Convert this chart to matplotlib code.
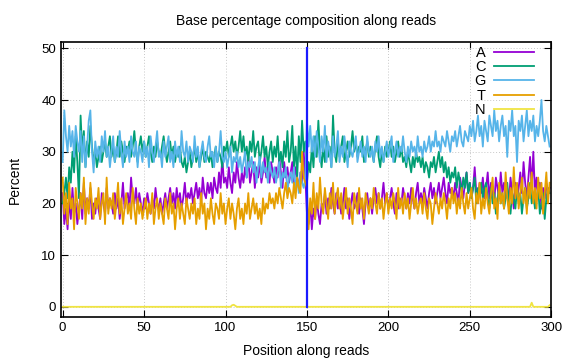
import numpy as np
import matplotlib.pyplot as plt

plt.rcParams['font.family'] = ['Liberation Sans', 'DejaVu Sans']

# Base percentages per read position (0..299)
pct_a = [
    22, 16, 19, 15, 21, 17, 23, 18, 20, 16,
    19, 22, 17, 24, 18, 21, 19, 23, 17, 20,
    18, 21, 19, 17, 22, 20, 18, 23, 19, 21,
    20, 18, 22, 19, 21, 17, 20, 24, 19, 21,
    22, 19, 25, 21, 20, 23, 19, 22, 20, 18,
    21, 19, 22, 20, 18, 21, 19, 23, 20, 19,
    21, 18, 20, 22, 19, 21, 23, 20, 22, 19,
    23, 20, 22, 19, 21, 24, 20, 22, 21, 23,
    20, 22, 24, 21, 23, 20, 25, 22, 21, 24,
    22, 24, 21, 25, 23, 22, 26, 23, 29, 24,
    25, 23, 27, 24, 22, 26, 24, 28, 25, 23,
    26, 24, 27, 25, 29, 24, 26, 28, 23, 27,
    25, 28, 24, 26, 29, 25, 27, 24, 28, 26,
    24, 27, 25, 29, 26, 23, 28, 25, 27, 24,
    26, 28, 24, 27, 25, 23, 26, 24, 30, 25,
    18, 16, 20, 15, 19, 17, 21, 18, 16, 20,
    19, 22, 18, 21, 19, 23, 20, 18, 22, 19,
    21, 18, 20, 23, 19, 21, 17, 20, 22, 19,
    20, 22, 18, 21, 19, 16, 20, 22, 19, 21,
    18, 21, 23, 20, 22, 19, 21, 24, 20, 22,
    19, 21, 23, 20, 18, 22, 19, 21, 20, 23,
    21, 19, 22, 20, 23, 21, 19, 22, 24, 20,
    22, 20, 23, 21, 19, 22, 24, 21, 23, 20,
    22, 24, 21, 23, 25, 22, 20, 24, 22, 23,
    21, 24, 22, 20, 25, 23, 21, 24, 26, 22,
    24, 21, 23, 27, 22, 20, 24, 22, 25, 21,
    23, 26, 21, 24, 22, 20, 25, 23, 21, 26,
    22, 24, 21, 23, 20, 25, 22, 19, 24, 21,
    23, 26, 22, 28, 24, 21, 25, 29, 23, 30,
    22, 25, 21, 24, 19, 23, 21, 24, 22, 23,
]

pct_c = [
    20, 22, 25, 21, 27, 24, 30, 26, 33, 28,
    21, 37, 30, 34, 27, 32, 29, 35, 31, 28,
    30, 27, 29, 31, 28, 30, 32, 29, 31, 33,
    29, 31, 28, 30, 33, 29, 32, 30, 28, 31,
    30, 32, 29, 31, 34, 30, 28, 31, 33, 30,
    32, 29, 31, 33, 30, 28, 31, 29, 32, 30,
    29, 31, 33, 30, 28, 30, 32, 29, 31, 28,
    30, 29, 31, 28, 27, 29, 26, 28, 30, 27,
    29, 31, 28, 30, 27, 29, 31, 28, 30, 29,
    28, 30, 27, 29, 31, 28, 30, 29, 27, 31,
    30, 32, 29, 31, 33, 30, 32, 29, 31, 34,
    30, 33, 29, 31, 28, 32, 30, 34, 29, 31,
    32, 28, 30, 33, 29, 31, 27, 30, 32, 28,
    31, 29, 33, 28, 30, 27, 32, 29, 34, 28,
    30, 35, 27, 31, 25, 33, 28, 36, 30, 32,
    24, 28, 26, 31, 27, 33, 29, 36, 30, 27,
    31, 28, 33, 29, 31, 27, 37, 30, 28, 32,
    29, 31, 33, 28, 30, 32, 29, 31, 34, 30,
    32, 29, 31, 30, 33, 28, 30, 32, 29, 31,
    30, 28, 31, 33, 29, 27, 30, 28, 31, 29,
    30, 32, 29, 31, 28, 30, 32, 29, 31, 28,
    29, 27, 30, 28, 26, 29, 27, 30, 28, 29,
    27, 29, 26, 28, 27, 25, 28, 27, 29, 26,
    28, 30, 27, 29, 26, 28, 25, 27, 24, 26,
    25, 27, 23, 26, 24, 22, 25, 23, 26, 22,
    24, 21, 23, 25, 20, 23, 22, 24, 21, 23,
    24, 21, 19, 23, 20, 22, 18, 21, 23, 20,
    22, 19, 21, 24, 20, 18, 22, 21, 19, 23,
    20, 22, 18, 21, 23, 19, 21, 24, 20, 22,
    19, 21, 23, 18, 20, 22, 17, 21, 23, 22,
]

pct_g = [
    28, 38, 33, 30, 35, 31, 34, 29, 35, 32,
    30, 34, 28, 33, 27, 31, 36, 38, 30, 26,
    32, 29, 31, 28, 33, 30, 34, 29, 31, 27,
    30, 33, 28, 31, 29, 34, 30, 27, 32, 29,
    31, 28, 33, 30, 29, 32, 27, 31, 30, 28,
    32, 29, 31, 27, 33, 30, 28, 31, 34, 29,
    30, 27, 32, 29, 31, 33, 28, 30, 27, 32,
    29, 31, 28, 34, 30, 29, 32, 28, 31, 30,
    28, 33, 29, 31, 27, 30, 32, 29, 28, 31,
    33, 29, 30, 27, 31, 28, 30, 34, 29, 28,
    30, 27, 29, 31, 26, 29, 28, 30, 27, 29,
    26, 28, 30, 25, 28, 27, 29, 26, 28, 24,
    27, 29, 25, 28, 26, 27, 24, 28, 26, 25,
    27, 24, 26, 28, 23, 26, 25, 27, 22, 25,
    26, 24, 27, 23, 25, 22, 26, 24, 23, 25,
    36, 31, 35, 30, 33, 29, 34, 31, 28, 33,
    30, 35, 28, 32, 30, 27, 33, 29, 31, 34,
    28, 31, 29, 33, 30, 27, 32, 30, 29, 31,
    33, 28, 30, 32, 29, 31, 28, 33, 30, 29,
    31, 28, 32, 30, 33, 29, 31, 28, 30, 32,
    29, 31, 33, 28, 30, 32, 29, 31, 30, 33,
    30, 28, 31, 29, 32, 30, 31, 29, 33, 30,
    31, 29, 32, 30, 31, 33, 30, 32, 31, 34,
    31, 32, 30, 33, 32, 31, 34, 32, 30, 33,
    32, 34, 31, 33, 35, 32, 31, 34, 33, 32,
    35, 33, 36, 32, 34, 37, 33, 35, 31, 36,
    34, 32, 37, 35, 33, 38, 34, 36, 32, 35,
    37, 33, 35, 29, 36, 34, 38, 33, 35, 28,
    36, 34, 37, 32, 35, 38, 33, 36, 34, 37,
    32, 35, 33, 36, 40, 34, 32, 35, 33, 31,
]

pct_t = [
    25, 18, 22, 16, 24, 19, 21, 15, 23, 20,
    17, 22, 19, 25, 16, 21, 18, 24, 20, 17,
    21, 19, 23, 17, 20, 22, 16, 25, 18, 21,
    19, 22, 17, 20, 24, 18, 21, 16, 19, 22,
    18, 20, 17, 23, 19, 16, 21, 18, 20, 17,
    19, 21, 17, 20, 18, 22, 16, 19, 21, 17,
    20, 18, 16, 21, 19, 17, 22, 18, 20, 15,
    19, 21, 17, 20, 18, 16, 21, 19, 17, 20,
    18, 21, 16, 19, 17, 22, 18, 20, 15, 19,
    17, 21, 18, 16, 20, 19, 17, 22, 18, 20,
    16, 19, 21, 17, 20, 18, 15, 19, 21, 17,
    19, 16, 20, 18, 22, 17, 19, 21, 18, 20,
    17, 19, 16, 21, 18, 20, 19, 22, 20, 21,
    19, 22, 20, 23, 21, 19, 22, 24, 21, 23,
    22, 20, 24, 21, 25, 23, 22, 30, 25, 24,
    23, 15, 21, 18, 24, 17, 22, 19, 25, 20,
    18, 23, 20, 17, 22, 19, 24, 18, 21, 23,
    19, 22, 17, 20, 23, 18, 21, 19, 16, 22,
    20, 18, 23, 19, 21, 17, 22, 20, 18, 21,
    19, 23, 20, 18, 22, 19, 21, 17, 20, 22,
    18, 21, 19, 22, 20, 17, 23, 19, 21, 18,
    22, 19, 21, 17, 20, 23, 19, 21, 18, 20,
    21, 18, 22, 19, 17, 21, 20, 16, 19, 22,
    20, 18, 21, 19, 22, 20, 17, 21, 19, 23,
    20, 22, 18, 21, 19, 23, 20, 18, 22, 19,
    21, 23, 19, 17, 22, 20, 24, 18, 21, 19,
    23, 20, 18, 22, 25, 19, 21, 17, 24, 20,
    22, 19, 26, 21, 18, 23, 20, 27, 21, 24,
    19, 22, 25, 20, 23, 18, 24, 21, 26, 20,
    23, 19, 25, 21, 24, 18, 22, 26, 20, 24,
]

# N is zero apart from a few tiny bumps
n_bumps = {104: 0.3, 105: 0.4, 106: 0.2, 288: 0.8, 299: 0.3}
pct_n = [n_bumps.get(i, 0.0) for i in range(300)]

positions = np.arange(len(pct_a))
read_split = 150

series = [
    ('A', pct_a, '#9400d3'),
    ('C', pct_c, '#009e73'),
    ('G', pct_g, '#56b4e9'),
    ('T', pct_t, '#e69f00'),
    ('N', pct_n, '#f0e442'),
]

fig = plt.figure(figsize=(5.76, 3.6), dpi=100)
ax = fig.add_axes([0.106, 0.119, 0.851, 0.764])

for name, vals, col in series:
    ax.plot(positions, vals, color=col, linewidth=1.3, label=name)

# marker between read 1 and read 2
ax.plot([read_split, read_split], [0, 50], color='#1a1aff', linewidth=1.6)

ax.set_xlim(-1, 300)
ax.set_ylim(-2, 51.2)
ax.set_xticks(range(0, 301, 50))
ax.set_yticks(range(0, 51, 10))
ax.tick_params(direction='in', top=True, right=True, length=5,
               labelsize=9.5, width=0.8)
ax.grid(True, color='#c8c8c8', linestyle=(0, (1, 2)), linewidth=0.7)
for sp in ax.spines.values():
    sp.set_linewidth(1.2)

ax.set_xlabel('Position along reads', fontsize=10, labelpad=7)
ax.set_ylabel('Percent', fontsize=10, labelpad=14)
ax.set_title('Base percentage composition along reads', fontsize=10, pad=12)

ax.legend(loc='upper right', bbox_to_anchor=(0.972, 1.0), frameon=False,
          markerfirst=False, handlelength=2.75, handletextpad=0.55,
          labelspacing=0.02, fontsize=10.5, borderaxespad=0.0,
          borderpad=0.25)

fig.savefig('out.png', dpi=100)
